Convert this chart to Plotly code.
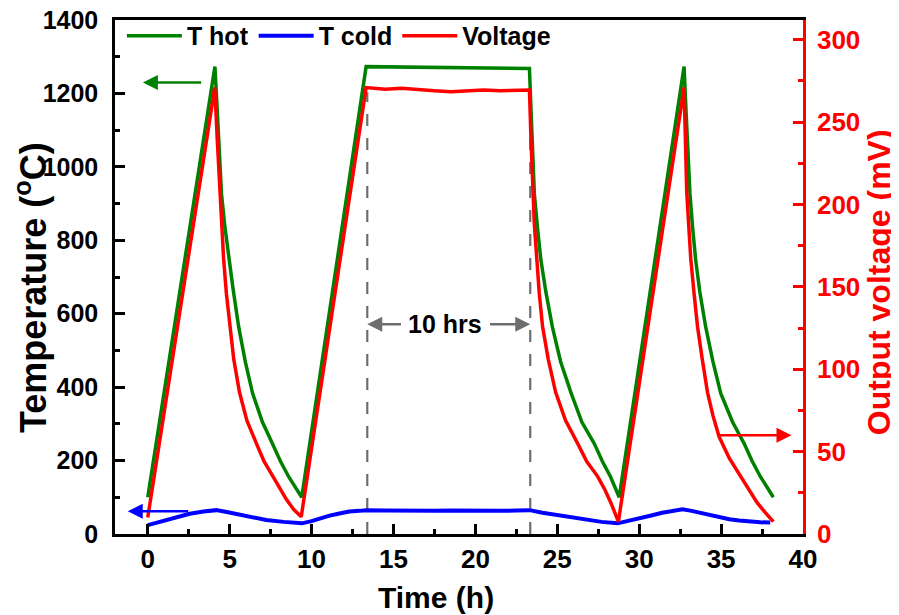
import plotly.graph_objects as go

# ---------------- data ----------------
hot_time = [0, 4.1, 4.2, 4.3, 4.4, 4.5, 4.7, 4.95, 5.2, 5.55, 5.95, 6.4, 7.0, 7.6, 8.1, 8.6, 9.0, 9.4,
            13.33, 15.0, 17.0, 19.0, 21.0, 23.3,
            23.4, 23.5, 23.6, 23.8, 24.0, 24.3, 24.7, 25.2, 25.85, 26.5, 27.25, 27.75, 28.25, 28.78,
            32.74, 32.82, 32.9, 33.0, 33.1, 33.25, 33.45, 33.7, 34.06, 34.5, 34.98, 35.7, 36.4, 36.9, 37.4, 37.8, 38.19]
hot_temp = [100, 1273, 1190, 1108, 1015, 927, 840, 746, 670, 564, 470, 383, 305, 247, 198, 156, 128, 100,
            1273, 1272, 1271, 1270, 1269, 1268,
            1150, 1030, 927, 830, 746, 660, 564, 470, 383, 305, 247, 198, 156, 100,
            1273, 1190, 1108, 1015, 927, 840, 746, 660, 564, 470, 383, 305, 247, 198, 156, 128, 100]

cold_time = [0, 0.8, 1.55, 2.56, 3.4, 4.19, 4.9, 5.6, 6.4, 7.24, 8.3, 9.41, 10.0, 10.5, 11.1, 11.7, 12.3,
             12.93, 13.33, 14.5, 15.5, 16.5, 17.5, 18.5, 19.5, 20.5, 21.5, 22.5, 23.3, 24.1, 24.9, 25.8,
             26.75, 27.7, 28.68, 29.4, 30.2, 30.8, 31.4, 32.0, 32.65, 33.2, 33.86, 34.7, 35.5, 36.1, 36.7,
             37.4, 38.0]
cold_temp = [24, 34, 43, 55, 61, 65, 59, 52, 45, 38, 33, 29, 35, 43, 50, 56, 61,
             63, 65, 64, 63, 64, 63, 64, 63, 64, 63, 64, 65, 58, 52, 45,
             38, 33, 29, 36, 43, 51, 58, 63, 67, 63, 56, 47, 40, 37, 34,
             32, 31]

volt_time = [0, 4.09, 4.25, 4.39, 4.5, 4.63, 4.8, 5.0, 5.25, 5.6, 6.05, 6.63, 7.1, 7.64, 8.05, 8.46, 8.9, 9.37,
             13.33, 14.5, 15.5, 16.5, 17.5, 18.5, 19.5, 20.5, 21.5, 22.5, 23.3,
             23.4, 23.5, 23.6, 23.75, 23.9, 24.1, 24.45, 24.9, 25.5, 26.24, 26.8, 27.46, 27.9, 28.27, 28.73,
             32.74, 32.82, 32.9, 33.02, 33.15, 33.35, 33.56, 33.85, 34.17, 34.5, 34.88, 35.5, 36.2, 36.7, 37.2, 37.7, 38.19]
volt_mv = [10, 271, 238, 208, 188, 167, 146, 126, 106, 86, 69, 55, 44, 35, 28, 21, 15, 10.5,
           271, 270, 270.5, 269.5, 269, 268.5, 269, 269.5, 269, 269, 269.5,
           238, 208, 188, 167, 146, 126, 106, 86, 69, 55, 44, 35, 27, 19, 7.5,
           271, 238, 208, 188, 167, 146, 126, 106, 86, 72, 59, 46, 35, 27, 19, 13, 7.5]

marker_times = [13.4, 23.35]          # start / end of the 10 h dwell
marker_top = 1203                      # top of dashed markers (deg C)

time_ticks = [0, 5, 10, 15, 20, 25, 30, 35, 40]

FONT = "Liberation Sans, Arial, sans-serif"
GREEN = "#008000"
BLUE = "#0000ff"
RED = "#ff0000"
GRAY = "#6e6e6e"

fig = go.Figure()

fig.add_trace(go.Scatter(x=hot_time, y=hot_temp, name="T hot", mode="lines",
                         line=dict(color=GREEN, width=3.5)))
fig.add_trace(go.Scatter(x=cold_time, y=cold_temp, name="T cold", mode="lines",
                         line=dict(color=BLUE, width=4)))
fig.add_trace(go.Scatter(x=volt_time, y=volt_mv, name="Voltage", mode="lines", yaxis="y2",
                         line=dict(color=RED, width=3.5)))

for t in marker_times:
    fig.add_shape(type="line", xref="x", yref="y", x0=t, x1=t, y0=0, y1=marker_top,
                  line=dict(color=GRAY, width=2.2, dash="12px,12px"), layer="below")

bold = dict(family=FONT, weight="bold")

# arrows
fig.add_annotation(x=-0.3, y=1230, ax=3.35, ay=1230, xref="x", yref="y", axref="x", ayref="y",
                   text="", showarrow=True, arrowhead=2, arrowsize=1.2, arrowwidth=2.5, arrowcolor=GREEN)
fig.add_annotation(x=-1.22, y=62, ax=2.56, ay=62, xref="x", yref="y", axref="x", ayref="y",
                   text="", showarrow=True, arrowhead=2, arrowsize=1.2, arrowwidth=2.5, arrowcolor=BLUE)
fig.add_annotation(x=39.3, y=60, ax=34.76, ay=60, xref="x", yref="y2", axref="x", ayref="y2",
                   text="", showarrow=True, arrowhead=2, arrowsize=1.2, arrowwidth=2.5, arrowcolor=RED)
fig.add_annotation(x=marker_times[0], y=571, ax=15.55, ay=571, xref="x", yref="y", axref="x", ayref="y",
                   text="", showarrow=True, arrowhead=2, arrowsize=1.2, arrowwidth=2.5, arrowcolor=GRAY)
fig.add_annotation(x=marker_times[1], y=571, ax=20.8, ay=571, xref="x", yref="y", axref="x", ayref="y",
                   text="", showarrow=True, arrowhead=2, arrowsize=1.2, arrowwidth=2.5, arrowcolor=GRAY)
fig.add_annotation(x=18.15, y=571, xref="x", yref="y", text="10 hrs", showarrow=False,
                   font=dict(size=25, color="black", **bold))

# axis titles (placed like the original figure)
fig.add_annotation(x=0.467, y=-0.1226, xref="paper", yref="paper", xanchor="center", yanchor="middle",
                   text="Time (h)", showarrow=False, font=dict(size=30, color="black", **bold))
fig.add_annotation(x=-0.122, y=0.4786, xref="paper", yref="paper", xanchor="center", yanchor="middle",
                   text="Temperature (<sup>o</sup>C)", textangle=-90, showarrow=False,
                   font=dict(size=36, color="black", **bold))
fig.add_annotation(x=1.1105, y=0.49, xref="paper", yref="paper", xanchor="center", yanchor="middle",
                   text="Output voltage (mV)", textangle=-90, showarrow=False,
                   font=dict(size=32, color=RED, **bold))

# the page body has an 8px margin, so the figure is drawn 8px in from the top-left
fig.update_layout(
    width=891, height=607,
    margin=dict(l=107, r=96, t=12, b=81, autoexpand=False),
    plot_bgcolor="white", paper_bgcolor="white",
    font=dict(family=FONT, color="black"),
    showlegend=True,
    legend=dict(orientation="h", x=0.01, y=0.969, xanchor="left", yanchor="middle",
                font=dict(size=25, color="black", **bold), bgcolor="rgba(0,0,0,0)",
                itemwidth=55, tracegroupgap=0),
    xaxis=dict(range=[-2, 40], tickvals=time_ticks, ticks="inside", ticklen=10, tickwidth=2.5,
               tickcolor="black", showline=True, linewidth=2.5, linecolor="black", mirror=True,
               showgrid=False, zeroline=False, automargin=False, ticklabeloverflow="allow",
               tickfont=dict(size=26, color="black", **bold),
               minor=dict(dtick=2.5, tick0=0, ticks="inside", ticklen=5, tickwidth=2.5, tickcolor="black")),
    yaxis=dict(range=[0, 1400], dtick=200, tick0=0, ticks="inside", ticklen=10, tickwidth=2.5,
               tickcolor="black", showline=True, linewidth=2.5, linecolor="black",
               showgrid=False, zeroline=False, automargin=False, ticklabelstandoff=9,
               ticklabeloverflow="allow",
               tickfont=dict(size=25, color="black", **bold),
               minor=dict(dtick=100, tick0=0, ticks="inside", ticklen=5, tickwidth=2.5, tickcolor="black")),
    yaxis2=dict(range=[0, 312], dtick=50, tick0=0, overlaying="y", side="right", ticks="inside",
                ticklen=10, tickwidth=2.5, tickcolor=RED, showline=True, linewidth=2.5, linecolor=RED,
                showgrid=False, zeroline=False, automargin=False, ticklabelstandoff=6,
                ticklabeloverflow="allow",
                tickfont=dict(size=26, color=RED, **bold),
                minor=dict(dtick=25, tick0=0, ticks="inside", ticklen=5, tickwidth=2.5, tickcolor=RED)),
)

fig.write_html("out.html")
